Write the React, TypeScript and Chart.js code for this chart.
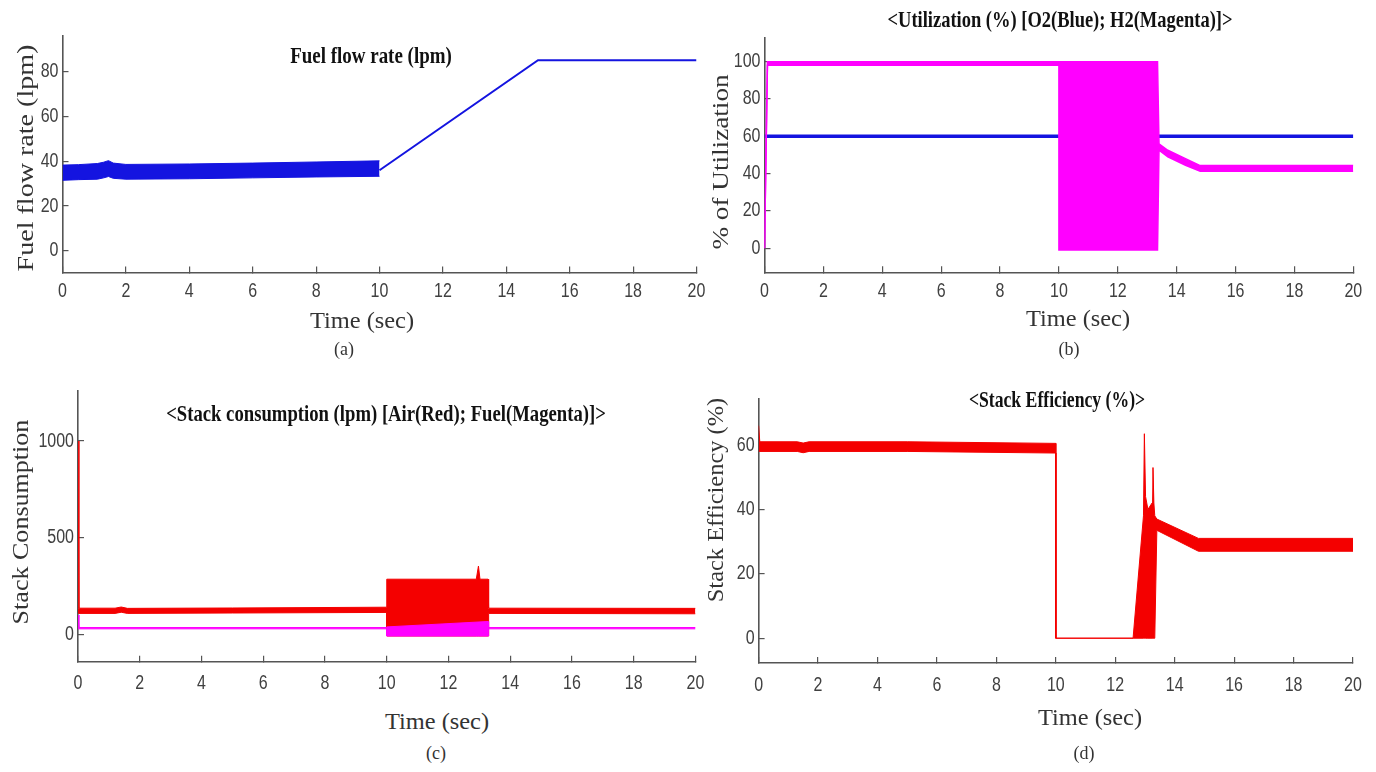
import React, { useEffect, useLayoutEffect, useRef, useState } from "react";
import { Chart, registerables } from "chart.js";
Chart.register(...registerables);

// ---------------- data ----------------
const xTickValues = [0, 2, 4, 6, 8, 10, 12, 14, 16, 18, 20];
const xTickLabels = ["0", "2", "4", "6", "8", "10", "12", "14", "16", "18", "20"];

// (a) Fuel flow rate
const yTicksA = [0, 20, 40, 60, 80];
const yTickLabelsA = ["0", "20", "40", "60", "80"];
const timeA_band = [0, 0.5, 1.1, 1.3, 1.45, 1.6, 2, 4, 6, 8, 10];
const fuelA_upper = [38.3, 38.5, 39, 39.6, 40.3, 39.2, 38.6, 38.8, 39.2, 39.7, 40.2];
const fuelA_lower = [31.5, 31.8, 32, 32.6, 33.2, 32.4, 32, 32.2, 32.6, 33, 33.3];
const timeA_ramp = [10, 15, 20];
const fuelA_ramp = [36, 85.2, 85.2];

// (b) Utilization
const yTicksB = [0, 20, 40, 60, 80, 100];
const yTickLabelsB = ["0", "20", "40", "60", "80", "100"];
const timeB_O2 = [0, 20];
const o2B = [60, 60];
const timeB_H2 = [0, 0.1, 10, 10.001, 13.35, 13.4, 13.7, 14.3, 14.8, 20];
const h2B_upper = [0, 100, 100, 100, 100, 56, 52.5, 48, 44.3, 44.3];
const h2B_lower = [0, 98, 98, -1, -1, 52.5, 49, 44.5, 41.3, 41.3];

// (c) Stack consumption
const yTicksC = [0, 500, 1000];
const yTickLabelsC = ["0", "500", "1000"];
const timeC_air = [0, 0.03, 1.2, 1.4, 1.6, 5, 10, 10.001, 12.9, 12.97, 13.02, 13.28, 13.3, 20];
const airC_upper = [1000, 135, 135, 141, 134, 136, 140, 285, 285, 353, 285, 285, 135, 134];
const airC_lower = [110, 108, 108, 114, 108, 110, 113, -9, -9, -9, -9, -9, 108, 106];
const timeC_fuel = [0, 0.03, 10, 10.001, 13.28, 13.3, 20];
const fuelC_upper = [100, 35, 35, 38, 66, 35, 35];
const fuelC_lower = [28, 28, 28, -9, -9, 28, 28];

// (d) Stack efficiency
const yTicksD = [0, 20, 40, 60];
const yTickLabelsD = ["0", "20", "40", "60"];
const timeD = [0, 0.04, 1.3, 1.5, 1.7, 5, 10, 10.001, 12.6, 12.95, 12.98, 13.02, 13.1, 13.24, 13.27, 13.3, 13.33, 13.4, 14.8, 20];
const effD_upper = [66, 61, 61, 60.6, 61, 61, 60.5, 0, 0, 38, 63.5, 44, 40, 42, 53, 42, 38, 37, 31, 31];
const effD_lower = [58, 58, 58, 57.6, 58, 58, 57.5, 0, 0, 0, 0, 0, 0, 0, 0, 0, 0, 33.5, 27, 27];

// ---------------- styles ----------------
const BLUE = "#1414e0";
const MAGENTA = "#ff00ff";
const RED = "#f40000";
const AXIS_COLOR = "#555555";
const TICK_COLOR = "#404040";
const TICK_FONT = { family: "'Liberation Sans', Arial, sans-serif", size: 20 };
const TICK_SX = 0.8;
const YW = 60, PT = 30, PR = 30, HX = 45;

const pts = (xs: number[], ys: number[]) => xs.map((x, i) => ({ x, y: ys[i] }));
function line(xs: number[], ys: number[], color: string, bw: number) {
  return { data: pts(xs, ys), borderColor: color, backgroundColor: color, borderWidth: bw, pointRadius: 0, fill: false };
}
function band(xs: number[], up: number[], lo: number[], color: string, bw: number) {
  return [
    { data: pts(xs, up), borderColor: color, backgroundColor: color, borderWidth: bw, pointRadius: 0, fill: false },
    { data: pts(xs, lo), borderColor: color, backgroundColor: color, borderWidth: bw, pointRadius: 0, fill: "-1" },
  ];
}

// draws the scales' own tick labels horizontally condensed (MATLAB-like narrow digits)
const narrowTicks = {
  id: "narrowTicks",
  beforeDraw(chart: any) {
    Object.values(chart.scales).forEach((s: any) => {
      if (s._narrowPatched) return;
      s._narrowPatched = true;
      s.drawLabels = function (chartArea: any) {
        if (!this.options.ticks.display) return;
        const ctx = this.ctx;
        const items = this.getLabelItems(chartArea);
        for (const item of items) {
          const o = item.options;
          ctx.save();
          ctx.translate(o.translation[0], o.translation[1]);
          if (o.rotation) ctx.rotate(o.rotation);
          ctx.scale(TICK_SX, 1);
          ctx.font = item.font.string;
          ctx.fillStyle = o.color;
          ctx.textAlign = o.textAlign;
          ctx.textBaseline = o.textBaseline;
          ctx.fillText(String(item.label), 0, item.textOffset);
          ctx.restore();
        }
      };
    });
  },
};

type Geo = { L: number; T: number; R: number; B: number; yMin: number; yMax: number; xPad: number };

function Panel({ geo, datasets, yTicks, yLabels }: { geo: Geo; datasets: any[]; yTicks: number[]; yLabels: string[] }) {
  const ref = useRef<HTMLCanvasElement>(null);
  const left = Math.round(geo.L - YW);
  const top = Math.round(geo.T - PT);
  const width = Math.round(geo.R - left + PR);
  const height = Math.round(geo.B - top + HX);
  const yW = geo.L - left;
  const padTop = geo.T - top;
  const padRight = left + width - geo.R;
  const hx = top + height - geo.B;
  useEffect(() => {
    const chart = new Chart(ref.current as HTMLCanvasElement, {
      type: "line",
      data: { datasets },
      plugins: [narrowTicks],
      options: {
        responsive: false,
        animation: false,
        events: [],
        layout: { padding: { left: 0, top: padTop, right: padRight, bottom: 0 } },
        plugins: { legend: { display: false }, tooltip: { enabled: false }, title: { display: false } },
        elements: { point: { radius: 0 }, line: { tension: 0 } },
        scales: {
          x: {
            type: "linear",
            position: "bottom",
            min: 0,
            max: 20,
            afterBuildTicks: (s: any) => { s.ticks = xTickValues.map((v) => ({ value: v })); },
            afterFit: (s: any) => { s.height = hx; },
            ticks: { autoSkip: false, maxRotation: 0, padding: geo.xPad, color: TICK_COLOR, font: TICK_FONT, callback: (_v: any, i: number) => xTickLabels[i] },
            grid: { drawOnChartArea: false, drawTicks: true, tickLength: -6, color: AXIS_COLOR, lineWidth: 1.2 },
            border: { display: true, color: AXIS_COLOR, width: 1.6 },
          },
          y: {
            type: "linear",
            position: "left",
            min: geo.yMin,
            max: geo.yMax,
            afterBuildTicks: (s: any) => { s.ticks = yTicks.map((v) => ({ value: v })); },
            afterFit: (s: any) => { s.width = yW; },
            ticks: { autoSkip: false, padding: 10, color: TICK_COLOR, font: TICK_FONT, callback: (_v: any, i: number) => yLabels[i] },
            grid: { drawOnChartArea: false, drawTicks: true, tickLength: -6, color: AXIS_COLOR, lineWidth: 1.2 },
            border: { display: true, color: AXIS_COLOR, width: 1.6 },
          },
        },
      } as any,
    });
    return () => chart.destroy();
  }, []);
  return <canvas ref={ref} width={width} height={height} style={{ position: "absolute", left, top, width, height }} />;
}

function FitText({ text, cx, cy, w, font, rot, color }: { text: string; cx: number; cy: number; w?: number; font: string; rot?: number; color?: string }) {
  const ref = useRef<HTMLSpanElement>(null);
  const [sc, setSc] = useState(1);
  useLayoutEffect(() => {
    if (ref.current && w) {
      const m = ref.current.offsetWidth;
      if (m > 0) setSc(w / m);
    }
  }, [text, w, font]);
  return (
    <span
      ref={ref}
      style={{
        position: "absolute",
        left: cx,
        top: cy,
        whiteSpace: "nowrap",
        font,
        lineHeight: 1,
        color: color || "#222",
        transform: `translate(-50%, -50%) rotate(${rot || 0}deg) scaleX(${sc})`,
        transformOrigin: "50% 50%",
      }}
    >
      {text}
    </span>
  );
}

const TITLE_FONT = "bold 24px 'Liberation Serif', serif";
const AXIS_FONT = "23px 'Liberation Serif', serif";
const CAP_FONT = "18px 'Liberation Serif', serif";

export default function App() {
  const geoA: Geo = { L: 62.5, T: 36, R: 696.5, B: 272.5, yMin: -9.7, yMax: 96, xPad: 13 };
  const geoB: Geo = { L: 764.5, T: 38.3, R: 1353.3, B: 272.3, yMin: -12.9, yMax: 112.5, xPad: 13.3 };
  const geoC: Geo = { L: 78, T: 391, R: 695.5, B: 661.7, yMin: -142, yMax: 1259, xPad: 16 };
  const geoD: Geo = { L: 758.6, T: 398.3, R: 1353, B: 663, yMin: -7.7, yMax: 74.5, xPad: 16.6 };

  const dsA = [...band(timeA_band, fuelA_upper, fuelA_lower, BLUE, 1), line(timeA_ramp, fuelA_ramp, BLUE, 2)];
  const dsB = [...band(timeB_H2, h2B_upper, h2B_lower, MAGENTA, 1.5), line(timeB_O2, o2B, BLUE, 3.5)];
  const dsC = [...band(timeC_fuel, fuelC_upper, fuelC_lower, MAGENTA, 1), ...band(timeC_air, airC_upper, airC_lower, RED, 1)];
  const dsD = [...band(timeD, effD_upper, effD_lower, RED, 1)];

  return (
    <div style={{ position: "absolute", left: 0, top: 0, width: 1376, height: 772, overflow: "hidden", background: "#fff" }}>
      <Panel geo={geoA} datasets={dsA} yTicks={yTicksA} yLabels={yTickLabelsA} />
      <Panel geo={geoB} datasets={dsB} yTicks={yTicksB} yLabels={yTickLabelsB} />
      <Panel geo={geoC} datasets={dsC} yTicks={yTicksC} yLabels={yTickLabelsC} />
      <Panel geo={geoD} datasets={dsD} yTicks={yTicksD} yLabels={yTickLabelsD} />

      <FitText text="Fuel flow rate (lpm)" cx={371} cy={55} w={162} font={TITLE_FONT} color="#111" />
      <FitText text="<Utilization (%) [O2(Blue); H2(Magenta)]>" cx={1060} cy={19} w={345} font={TITLE_FONT} color="#111" />
      <FitText text="<Stack consumption (lpm) [Air(Red); Fuel(Magenta)]>" cx={386} cy={413} w={440} font={TITLE_FONT} color="#111" />
      <FitText text="<Stack Efficiency (%)>" cx={1057} cy={399} w={176} font={TITLE_FONT} color="#111" />

      <FitText text="Fuel flow rate (lpm)" cx={25} cy={158} w={227} font={AXIS_FONT} rot={-90} color="#333" />
      <FitText text="% of Utilization" cx={720} cy={162} w={175} font={AXIS_FONT} rot={-90} color="#333" />
      <FitText text="Stack Consumption" cx={20} cy={522} w={205} font={AXIS_FONT} rot={-90} color="#333" />
      <FitText text="Stack Efficiency (%)" cx={715} cy={500} w={204} font={AXIS_FONT} rot={-90} color="#333" />

      <FitText text="Time (sec)" cx={362} cy={320} w={104} font={AXIS_FONT} color="#333" />
      <FitText text="Time (sec)" cx={1078} cy={318} w={104} font={AXIS_FONT} color="#333" />
      <FitText text="Time (sec)" cx={437} cy={721} w={104} font={AXIS_FONT} color="#333" />
      <FitText text="Time (sec)" cx={1090} cy={717} w={104} font={AXIS_FONT} color="#333" />

      <FitText text="(a)" cx={344} cy={349} font={CAP_FONT} color="#333" />
      <FitText text="(b)" cx={1069} cy={349} font={CAP_FONT} color="#333" />
      <FitText text="(c)" cx={436} cy={753} font={CAP_FONT} color="#333" />
      <FitText text="(d)" cx={1084} cy={753} font={CAP_FONT} color="#333" />
    </div>
  );
}
